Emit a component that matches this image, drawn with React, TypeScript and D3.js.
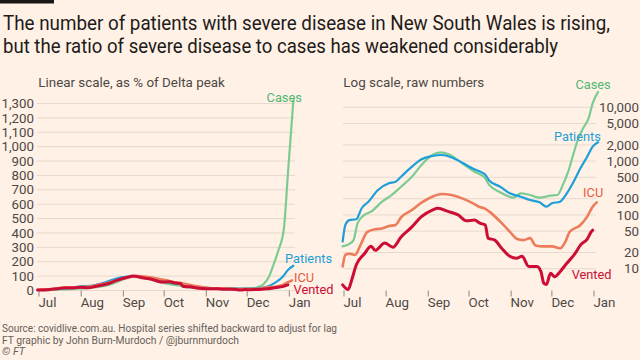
import React from "react";
import * as d3 from "d3";

// ---------- data ----------
const casesDates = ["2021-06-30","2021-07-05","2021-07-08","2021-07-11","2021-07-16","2021-07-21","2021-07-29","2021-08-05","2021-08-12","2021-08-20","2021-08-27","2021-09-04","2021-09-10","2021-09-16","2021-09-26","2021-10-05","2021-10-09","2021-10-12","2021-10-16","2021-10-24","2021-11-03","2021-11-08","2021-11-15","2021-11-22","2021-11-30","2021-12-05","2021-12-09","2021-12-13","2021-12-17","2021-12-20","2021-12-24","2021-12-28","2021-12-31","2022-01-04"];
const casesValues = [26,29,34,70,100,115,176,234,334,513,846,1297,1458,1337,910,635,568,513,358,263,209,252,234,209,228,234,358,635,1396,2466,4074,6250,11858,19300];

const patientsDates = ["2021-06-30","2021-07-02","2021-07-05","2021-07-10","2021-07-14","2021-07-19","2021-07-26","2021-08-03","2021-08-08","2021-08-12","2021-08-20","2021-08-27","2021-09-04","2021-09-11","2021-09-18","2021-09-26","2021-10-05","2021-10-09","2021-10-13","2021-10-16","2021-10-24","2021-10-31","2021-11-08","2021-11-15","2021-11-22","2021-11-27","2021-12-01","2021-12-07","2021-12-12","2021-12-17","2021-12-22","2021-12-27","2021-12-31","2022-01-04"];
const patientsValues = [32,65,80,83,133,176,290,386,414,513,787,1080,1245,1297,1175,934,704,640,560,430,334,252,218,189,171,142,164,176,252,414,735,1208,1853,2233];

const icuDates = ["2021-06-30","2021-07-02","2021-07-05","2021-07-09","2021-07-13","2021-07-18","2021-07-24","2021-07-29","2021-08-03","2021-08-08","2021-08-12","2021-08-20","2021-08-27","2021-09-04","2021-09-11","2021-09-18","2021-09-26","2021-10-05","2021-10-09","2021-10-13","2021-10-16","2021-10-24","2021-10-31","2021-11-05","2021-11-10","2021-11-15","2021-11-19","2021-11-25","2021-12-01","2021-12-07","2021-12-11","2021-12-14","2021-12-22","2021-12-27","2021-12-31","2022-01-03"];
const icuValues = [11,18,19,18,27,48,54,56,62,65,90,123,169,218,244,234,203,159,140,130,115,75,49,36,34,37,27,26,26,24,32,48,65,93,142,171];

const ventedDates = ["2021-06-30","2021-07-04","2021-07-07","2021-07-10","2021-07-16","2021-07-21","2021-07-24","2021-07-31","2021-08-06","2021-08-12","2021-08-20","2021-08-27","2021-09-04","2021-09-08","2021-09-16","2021-09-23","2021-09-29","2021-10-05","2021-10-09","2021-10-13","2021-10-15","2021-10-20","2021-10-25","2021-10-31","2021-11-05","2021-11-09","2021-11-14","2021-11-20","2021-11-23","2021-11-25","2021-11-27","2021-11-30","2021-12-03","2021-12-07","2021-12-12","2021-12-18","2021-12-22","2021-12-27","2021-12-30","2021-12-31"];
const ventedValues = [5,4.1,6.6,11.7,19,26,22,30,25,39,60,93,123,133,115,100,78,80,70,65,37,34,24,17,15.6,17,11,11,8.8,5.4,5.1,8.2,7.1,8.8,12.6,19,27.5,35.6,48.7,52];

const leftTicks = [0,100,200,300,400,500,600,700,800,900,1000,1100,1200,1300];
const rightTicks = [10,20,50,100,200,500,1000,2000,5000,10000];
const titleLines = [
  "The number of patients with severe disease in New South Wales is rising,",
  "but the ratio of severe disease to cases has weakened considerably",
];
const leftSubtitle = "Linear scale, as % of Delta peak";
const rightSubtitle = "Log scale, raw numbers";
const footerLines = [
  "Source: covidlive.com.au. Hospital series shifted backward to adjust for lag",
  "FT graphic by John Burn-Murdoch / @jburnmurdoch",
  "© FT",
];

// ---------- styles ----------
const FONT = "Roboto, 'Noto Sans', sans-serif";
const BG = "#fff1e5";
const GRID = "#e6d9ce";
const TEXT = "#4d4845";
const styles: Record<string, { color: string; label: string; width: number }> = {
  Cases: { color: "#7ccb93", label: "#4fb874", width: 2.2 },
  Patients: { color: "#1e9fda", label: "#1e9fda", width: 2.2 },
  ICU: { color: "#ec7c5c", label: "#e8593e", width: 2.6 },
  Vented: { color: "#cc0e35", label: "#cc0e35", width: 3 },
};

export default function App() {
  const parse = d3.utcParse("%Y-%m-%d");
  const raw = [
    { name: "Cases", dates: casesDates, values: casesValues },
    { name: "Patients", dates: patientsDates, values: patientsValues },
    { name: "ICU", dates: icuDates, values: icuValues },
    { name: "Vented", dates: ventedDates, values: ventedValues },
  ];
  const cutoff = parse("2021-12-01")!;
  const series = raw.map((s) => {
    const pts = s.dates.map((d, i) => ({ date: parse(d)!, value: s.values[i] }));
    const peak = d3.max(pts.filter((p) => p.date < cutoff), (p) => p.value)!;
    return { name: s.name, pts, peak };
  });

  const start = new Date(Date.UTC(2021, 6, 1));
  const end = new Date(Date.UTC(2022, 0, 1));
  const xL = d3.scaleUtc().domain([start, end]).range([39, 289.3]);
  const xR = d3.scaleUtc().domain([start, end]).range([344, 594]);
  const yL = d3.scaleLinear().domain([0, 1300]).range([290.5, 103.5]);
  const yR = d3.scaleLog().domain([10, 10000]).range([268.7, 107.3]);
  const months = d3.utcMonth.range(start, new Date(Date.UTC(2022, 0, 2)));
  const fmtMonth = d3.utcFormat("%b");
  const fmtNum = d3.format(",");

  const lineL = (s: any) =>
    d3.line<any>().x((p) => xL(p.date)).y((p) => yL((p.value / s.peak) * 100)).curve(d3.curveMonotoneX)(s.pts) || "";
  const lineR = (s: any) =>
    d3.line<any>().x((p) => xR(p.date)).y((p) => yR(p.value)).curve(d3.curveMonotoneX)(s.pts) || "";

  // label offsets relative to each line end
  const labelL: Record<string, { dx: number; dy: number; anchor: string }> = {
    Cases: { dx: 8.5, dy: 1.5, anchor: "end" },
    Patients: { dx: -8.3, dy: -2.7, anchor: "start" },
    ICU: { dx: 2, dy: 1.2, anchor: "start" },
    Vented: { dx: 5.6, dy: 9.6, anchor: "start" },
  };
  const labelR: Record<string, { dx: number; dy: number; anchor: string }> = {
    Cases: { dx: -5, dy: -2.6, anchor: "middle" },
    Patients: { dx: 2.8, dy: -1.8, anchor: "end" },
    ICU: { dx: 6.5, dy: -5, anchor: "end" },
    Vented: { dx: -21, dy: 48.8, anchor: "start" },
  };
  const LABEL_SIZE = 12.8;

  return (
    <svg width={640} height={360} style={{ position: "absolute", left: 0, top: 0 }} fontFamily={FONT}>
      <rect width={640} height={360} fill={BG} />
      <rect x={0} y={0} width={54} height={3.5} fill="#1a1817" />
      {titleLines.map((t, i) => (
        <text key={i} x={3} y={30 + i * 23} fontSize={19.5} fill="#1e1b19"
          textLength={i === 0 ? 607 : 555} lengthAdjust="spacingAndGlyphs">{t}</text>
      ))}
      <text x={38.3} y={87} fontSize={13.3} fill={TEXT} textLength={186.5} lengthAdjust="spacingAndGlyphs">{leftSubtitle}</text>
      <text x={343.3} y={87} fontSize={13.3} fill={TEXT} textLength={141} lengthAdjust="spacingAndGlyphs">{rightSubtitle}</text>

      {/* left panel grid */}
      {leftTicks.map((t) => (
        <g key={"l" + t}>
          <line x1={37} x2={295} y1={yL(t)} y2={yL(t)} stroke={GRID} strokeWidth={1} />
          <text x={34} y={yL(t)} dy="0.35em" textAnchor="end" fontSize={13.3} fill={TEXT}>{fmtNum(t)}</text>
        </g>
      ))}
      {/* right panel grid */}
      {rightTicks.map((t) => (
        <g key={"r" + t}>
          <line x1={343} x2={596} y1={yR(t)} y2={yR(t)} stroke={GRID} strokeWidth={1} />
          <text x={639} y={yR(t)} dy="0.35em" textAnchor="end" fontSize={13.3} fill={TEXT}>{fmtNum(t)}</text>
        </g>
      ))}
      {/* month ticks */}
      {months.map((m) => (
        <g key={"m" + m.getTime()}>
          <line x1={xL(m)} x2={xL(m)} y1={290.5} y2={296.5} stroke="#8f8680" strokeWidth={1} />
          <text x={xL(m) - 0.5} y={306.5} fontSize={13.3} fill={TEXT}>{fmtMonth(m)}</text>
          <line x1={xR(m)} x2={xR(m)} y1={290.5} y2={296.5} stroke="#8f8680" strokeWidth={1} />
          <text x={xR(m) - 0.5} y={306.5} fontSize={13.3} fill={TEXT}>{fmtMonth(m)}</text>
        </g>
      ))}

      {/* lines */}
      {series.map((s) => (
        <path key={"pl" + s.name} d={lineL(s)} fill="none" stroke={styles[s.name].color}
          strokeWidth={styles[s.name].width} strokeLinejoin="round" strokeLinecap="round" />
      ))}
      {series.map((s) => (
        <path key={"pr" + s.name} d={lineR(s)} fill="none" stroke={styles[s.name].color}
          strokeWidth={styles[s.name].width} strokeLinejoin="round" strokeLinecap="round" />
      ))}

      {/* labels */}
      {series.map((s) => {
        const last = s.pts[s.pts.length - 1];
        const o = labelL[s.name];
        return (
          <text key={"ll" + s.name} x={xL(last.date) + o.dx} y={yL((last.value / s.peak) * 100) + o.dy}
            textAnchor={o.anchor as any} fontSize={LABEL_SIZE} fill={styles[s.name].label}>{s.name}</text>
        );
      })}
      {series.map((s) => {
        const last = s.pts[s.pts.length - 1];
        const o = labelR[s.name];
        return (
          <text key={"lr" + s.name} x={xR(last.date) + o.dx} y={yR(last.value) + o.dy}
            textAnchor={o.anchor as any} fontSize={LABEL_SIZE} fill={styles[s.name].label}>{s.name}</text>
        );
      })}

      {/* footer */}
      <text x={2} y={331.5} fontSize={10.8} fill="#66605c" textLength={335} lengthAdjust="spacingAndGlyphs">{footerLines[0]}</text>
      <text x={2} y={343.5} fontSize={10.8} fill="#66605c" textLength={237} lengthAdjust="spacingAndGlyphs">{footerLines[1]}</text>
      <text x={2} y={355.3} fontSize={10.8} fill="#66605c" fontStyle="italic">{footerLines[2]}</text>
    </svg>
  );
}
